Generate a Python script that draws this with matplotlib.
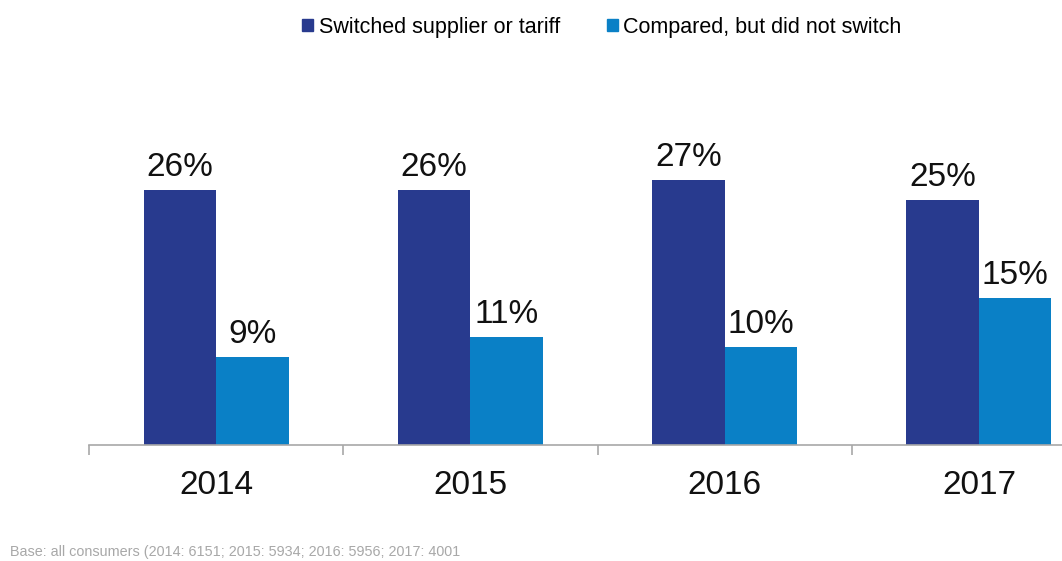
import matplotlib
matplotlib.use('Agg')
from matplotlib import pyplot as plt
from matplotlib.patches import Patch
import numpy as np

years = ['2014', '2015', '2016', '2017']
switched = [26, 26, 27, 25]
compared = [9, 11, 10, 15]
series_names = ['Switched supplier or tariff', 'Compared, but did not switch']
footer = 'Base: all consumers (2014: 6151; 2015: 5934; 2016: 5956; 2017: 4001'

dark = '#283a8e'
light = '#0a80c6'

plt.rcParams['font.family'] = ['Liberation Sans', 'DejaVu Sans']

fig = plt.figure(figsize=(10.62, 5.61), dpi=100)
ax = fig.add_axes([89 / 1062, 116 / 561, 1017 / 1062, 445 / 561])

x = np.arange(len(years))
w = 0.285
b1 = ax.bar(x - w / 2, switched, w, color=dark)
b2 = ax.bar(x + w / 2, compared, w, color=light)

for bars, vals in ((b1, switched), (b2, compared)):
    for r, v in zip(bars, vals):
        ax.annotate(f'{v}%', (r.get_x() + r.get_width() / 2, r.get_height()),
                    xytext=(0, 5), textcoords='offset points',
                    ha='center', va='bottom', fontsize=24, color='#111111')

ax.set_xlim(-0.5, len(years) - 0.5)
ax.set_ylim(0, 45.4)
ax.set_yticks([])
for s in ['top', 'right', 'left']:
    ax.spines[s].set_visible(False)
ax.spines['bottom'].set_color('#a8a8a8')
ax.spines['bottom'].set_linewidth(1.2)

ax.set_xticks(np.arange(len(years) + 1) - 0.5, minor=True)
ax.set_xticks(x)
ax.set_xticklabels(years, fontsize=24, color='#111111')
ax.tick_params(axis='x', which='major', length=0, pad=18)
ax.tick_params(axis='x', which='minor', length=7, color='#a8a8a8', width=1.2, direction='out')

handles = [Patch(color=dark), Patch(color=light)]
fig.legend(handles, series_names, loc='center', bbox_to_anchor=(602 / 1062, 1 - 27 / 561),
           ncol=2, frameon=False, fontsize=15.5, handlelength=0.5, handleheight=0.5,
           handletextpad=0.25, columnspacing=2.2)

fig.text(10 / 1062, 1 - 552 / 561, footer, fontsize=10.4, color='#a8a8a8', va='center', ha='left')

fig.savefig('out.png', dpi=100)
